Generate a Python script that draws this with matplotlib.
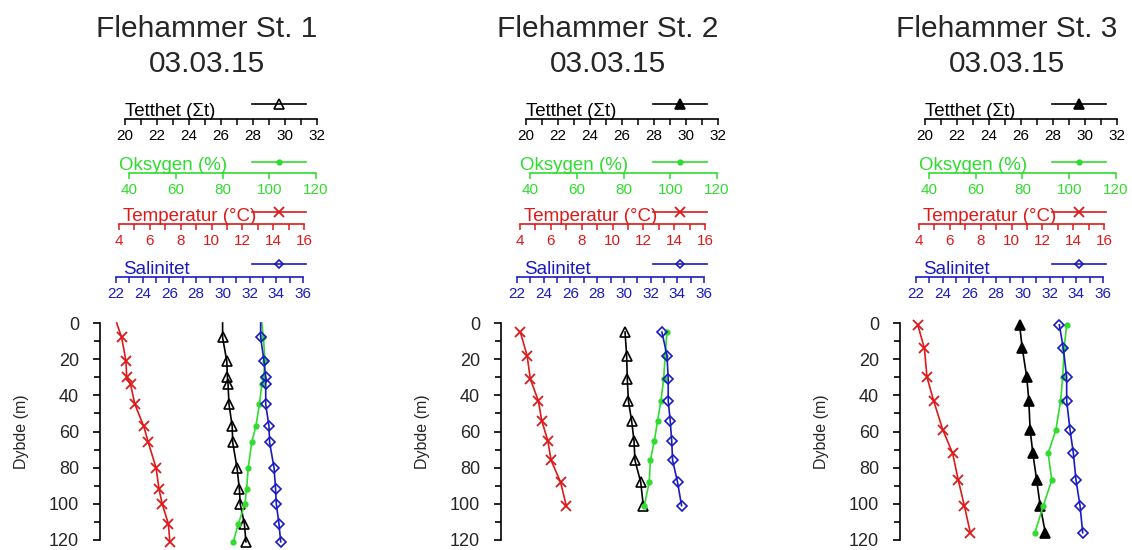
import matplotlib
matplotlib.use('Agg')
import matplotlib.pyplot as plt
from matplotlib.lines import Line2D
from matplotlib.ticker import MultipleLocator

plt.rcParams['font.family'] = ['Liberation Sans', 'DejaVu Sans']

# ---------------- data ----------------
stations = ['Flehammer St. 1', 'Flehammer St. 2', 'Flehammer St. 3']
dates = ['03.03.15', '03.03.15', '03.03.15']

var_labels = ['Tetthet (\u03a3t)', 'Oksygen (%)', 'Temperatur (\u00b0C)', 'Salinitet']
var_limits = [(20, 32), (40, 120), (4, 16), (22, 36)]
var_major = [2, 20, 2, 2]
var_minor = [1, None, 1, 1]
depth_ticks = [0, 20, 40, 60, 80, 100, 120]

depth_1 = [0, 8, 21, 30, 34, 45, 57, 66, 80, 92, 100, 111, 121]
tet_1 = [26.1, 26.1, 26.36, 26.4, 26.44, 26.5, 26.7, 26.73, 27.0, 27.15, 27.2, 27.46, 27.56]
oks_1 = [96.8, 97.5, 98.2, 97.5, 96.8, 95.8, 94.3, 92.5, 91.0, 90.3, 89.6, 86.8, 84.6]
temp_1 = [3.85, 4.17, 4.45, 4.5, 4.75, 5.03, 5.6, 5.9, 6.4, 6.6, 6.8, 7.2, 7.3]
sal_1 = [32.83, 32.83, 33.08, 33.21, 33.21, 33.21, 33.45, 33.5, 33.83, 33.95, 34.0, 34.2, 34.33]

depth_2 = [5, 18, 31, 43, 54, 65, 76, 88, 101]
tet_2 = [26.19, 26.29, 26.33, 26.4, 26.6, 26.75, 26.81, 27.17, 27.33]
oks_2 = [98.6, 97.8, 97.2, 96.0, 94.6, 93.2, 91.5, 91.0, 88.9]
temp_2 = [4.02, 4.46, 4.67, 5.19, 5.41, 5.8, 6.02, 6.63, 7.0]
sal_2 = [32.85, 33.23, 33.32, 33.32, 33.47, 33.58, 33.65, 34.02, 34.32]

depth_3 = [1, 14, 30, 43, 59, 72, 87, 101, 116]
tet_3 = [25.91, 26.08, 26.36, 26.49, 26.57, 26.74, 26.98, 27.2, 27.52]
oks_3 = [98.9, 97.8, 97.2, 96.3, 94.3, 91.0, 92.5, 88.9, 85.3]
temp_3 = [3.92, 4.35, 4.52, 4.95, 5.54, 6.18, 6.55, 6.94, 7.33]
sal_3 = [32.73, 33.03, 33.28, 33.28, 33.53, 33.78, 33.98, 34.28, 34.48]

panels = [
    (depth_1, [tet_1, oks_1, temp_1, sal_1], 1),
    (depth_2, [tet_2, oks_2, temp_2, sal_2], 0),
    (depth_3, [tet_3, oks_3, temp_3, sal_3], 0),
]

# ---------------- styles / layout ----------------
W, H = 1132, 550
colors = ['#000000', '#2fdc2f', '#dd1a1a', '#1a1ac0']
tri_face = ['none', 'none', '#000000']
bases = [125, 526, 925]
scale_off = [(0, 192), (4, 191), (-6, 179), (-9, 178)]
scale_y = [119, 173, 224, 277]
label_dx = [0, -6, -2, -2]
sample_dy = [-14, -10, -11, -12]
top_px, bot_px = 323, 540


def fx(x):
    return x / W


def fy(y):
    return 1 - y / H


def marker_style(k, panel_idx, legend=False):
    if k == 0:
        face = '#000000' if (legend and panel_idx > 0) else tri_face[panel_idx]
        return dict(marker='^', markersize=6.5, markerfacecolor=face,
                    markeredgecolor=colors[0], markeredgewidth=1.2)
    if k == 1:
        return dict(marker='o', markersize=3.5, markerfacecolor=colors[1],
                    markeredgecolor=colors[1])
    if k == 2:
        return dict(marker='x', markersize=7.5, markeredgewidth=1.3,
                    markeredgecolor=colors[2])
    return dict(marker='D', markersize=5.5 if not legend else 4,
                markerfacecolor='none', markeredgecolor=colors[3],
                markeredgewidth=1.2)


fig = plt.figure(figsize=(W / 100, H / 100), dpi=100)

for p, (depth, series, first_mark) in enumerate(panels):
    b = bases[p]

    # titles
    fig.text(fx(b + 82), fy(37), stations[p], ha='center', va='baseline',
             fontsize=21.5, color='#262626')
    fig.text(fx(b + 82), fy(72), dates[p], ha='center', va='baseline',
             fontsize=21.5, color='#262626')

    # depth axis
    ax = fig.add_axes([fx(b - 25), fy(bot_px), fx(200), (bot_px - top_px) / H])
    ax.patch.set_alpha(0)
    ax.set_ylim(120, 0)
    ax.set_yticks(depth_ticks)
    ax.yaxis.set_minor_locator(MultipleLocator(10))
    ax.tick_params(axis='y', which='major', direction='out', length=5, width=1.2,
                   labelsize=13, pad=10, colors='#000000', labelcolor='#262626')
    ax.tick_params(axis='y', which='minor', direction='out', length=4, width=1.2)
    ax.set_xticks([])
    for s in ['top', 'right', 'bottom']:
        ax.spines[s].set_visible(False)
    ax.spines['left'].set_linewidth(1.2)
    ax.set_ylabel('Dybde (m)', fontsize=11.5, color='#262626', labelpad=14)

    for k in range(4):
        x0 = b + scale_off[k][0]
        x1 = b + scale_off[k][1]
        c = colors[k]
        # data axes
        dax = fig.add_axes([fx(x0), fy(bot_px), fx(x1 - x0), (bot_px - top_px) / H])
        dax.set_xlim(*var_limits[k])
        dax.set_ylim(120, 0)
        dax.axis('off')
        dax.plot(series[k], depth, color=c, linewidth=1.2, clip_on=False,
                 markevery=list(range(first_mark, len(depth))),
                 **marker_style(k, p))

        # scale axes
        sy = scale_y[k]
        sax = fig.add_axes([fx(x0), fy(sy), fx(x1 - x0), 0.0005])
        sax.patch.set_alpha(0)
        sax.set_xlim(*var_limits[k])
        sax.set_yticks([])
        for s in ['top', 'right', 'left']:
            sax.spines[s].set_visible(False)
        sax.spines['bottom'].set_color(c)
        sax.spines['bottom'].set_linewidth(1.2)
        sax.xaxis.set_major_locator(MultipleLocator(var_major[k]))
        if var_minor[k]:
            sax.xaxis.set_minor_locator(MultipleLocator(var_minor[k]))
        sax.tick_params(axis='x', which='major', direction='out', length=4.5,
                        width=1.1, colors=c, labelsize=11, pad=3)
        sax.tick_params(axis='x', which='minor', direction='out', length=4,
                        width=1.1, colors=c)

        # variable label
        fig.text(fx(b + label_dx[k]), fy(sy - 3), var_labels[k], color=c,
                 fontsize=13.5, va='baseline', ha='left')

        # legend sample
        handle = Line2D([], [], color=c, linewidth=1.2, **marker_style(k, p, legend=True))
        sax.legend(handles=[handle], labels=[''], loc='center left',
                   bbox_to_anchor=(fx(b + 127), fy(sy + sample_dy[k])),
                   bbox_transform=fig.transFigure, frameon=False, borderpad=0,
                   borderaxespad=0, handletextpad=0, handlelength=3.9,
                   fontsize=10, numpoints=1)

fig.savefig('out.png', dpi=100)
